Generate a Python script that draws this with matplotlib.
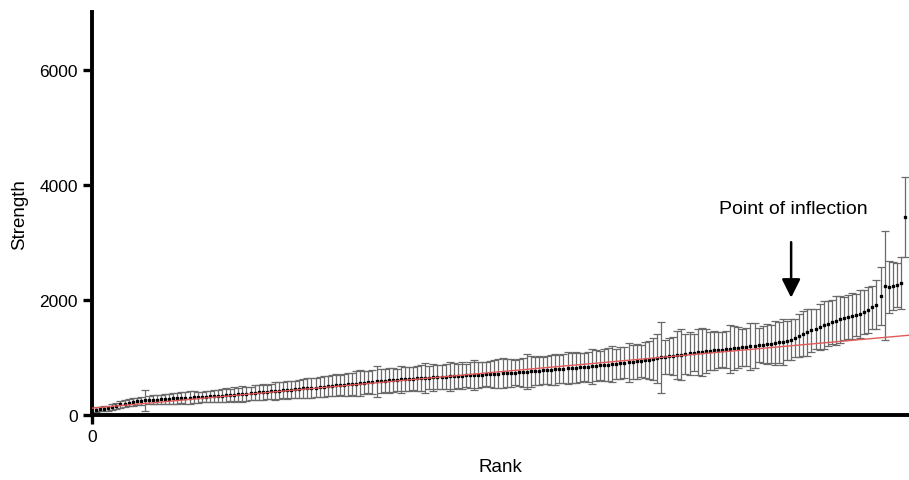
import numpy as np
import matplotlib
matplotlib.use("Agg")
import matplotlib.pyplot as plt

plt.rcParams['font.family'] = ['Liberation Sans', 'DejaVu Sans']

# mean strength for each rank
means = [95, 105, 110, 120, 140, 160, 185, 200, 215, 230,
         240, 250, 255, 260, 265, 270, 275, 280, 285, 290,
         295, 298, 300, 305, 310, 312, 318, 322, 326, 330,
         335, 338, 342, 348, 352, 358, 362, 368, 375, 385,
         392, 398, 405, 410, 416, 422, 428, 435, 442, 450,
         456, 462, 468, 472, 478, 485, 492, 500, 508, 515,
         522, 528, 535, 540, 548, 555, 562, 570, 578, 588,
         595, 600, 605, 610, 615, 620, 625, 630, 635, 640,
         644, 648, 652, 656, 660, 664, 668, 672, 676, 680,
         684, 688, 692, 696, 700, 704, 708, 712, 716, 720,
         725, 730, 734, 738, 742, 746, 752, 758, 764, 770,
         776, 782, 788, 794, 800, 806, 812, 818, 824, 830,
         836, 842, 848, 855, 862, 868, 875, 882, 890, 900,
         908, 916, 925, 934, 944, 952, 962, 972, 985, 1000,
         1010, 1020, 1030, 1040, 1050, 1060, 1070, 1080, 1090, 1100,
         1108, 1115, 1122, 1130, 1138, 1145, 1152, 1160, 1170, 1180,
         1188, 1196, 1205, 1214, 1222, 1230, 1240, 1250, 1262, 1275,
         1290, 1310, 1340, 1380, 1410, 1440, 1470, 1500, 1530, 1560,
         1590, 1620, 1640, 1660, 1680, 1700, 1720, 1740, 1760, 1790,
         1830, 1870, 1920, 2070, 2245, 2230, 2240, 2260, 2300, 3440]

# error bar half widths
errors = [40, 40, 40, 45, 50, 55, 60, 60, 60, 65,
          65, 70, 180, 70, 75, 75, 80, 80, 85, 90,
          95, 95, 100, 110, 100, 95, 90, 95, 100, 105,
          100, 110, 120, 110, 130, 120, 140, 125, 115, 130,
          135, 140, 120, 130, 150, 145, 140, 160, 150, 145,
          155, 160, 170, 180, 165, 175, 180, 170, 185, 190,
          180, 190, 200, 195, 210, 220, 200, 190, 205, 270,
          210, 200, 220, 215, 190, 230, 210, 205, 200, 215,
          220, 260, 200, 230, 210, 205, 220, 250, 230, 215,
          240, 200, 225, 260, 230, 220, 210, 230, 240, 250,
          260, 245, 240, 220, 230, 250, 300, 270, 240, 250,
          235, 250, 260, 265, 240, 250, 280, 260, 270, 255,
          245, 260, 300, 270, 250, 280, 290, 310, 265, 280,
          270, 340, 290, 300, 280, 310, 330, 360, 420, 620,
          300, 310, 330, 420, 440, 350, 380, 320, 400, 420,
          380, 330, 340, 310, 300, 320, 420, 380, 360, 320,
          330, 410, 390, 300, 320, 350, 330, 380, 360, 400,
          340, 360, 330, 380, 390, 410, 380, 350, 400, 420,
          390, 380, 430, 410, 370, 380, 400, 360, 420, 390,
          400, 380, 420, 500, 950, 450, 420, 380, 450, 700]

ranks = np.arange(1, len(means) + 1)

# linear fit line (start value, slope per rank)
fit_intercept = 120
fit_slope = 6.3

fig = plt.figure(figsize=(9.09, 4.81), dpi=100)
ax = fig.add_axes([0.1012, 0.135, 0.8988, 0.838])

ax.errorbar(ranks, means, yerr=errors, fmt='s', color='black', markersize=1.8,
            ecolor='#6a6a6a', elinewidth=0.9, capsize=2.8, capthick=0.9, zorder=2)

fit_x = np.array([0, 201])
ax.plot(fit_x, fit_intercept + fit_slope * fit_x, color='#e05a5a', lw=1.0, zorder=3)

ax.set_xlim(0, 201)
ax.set_ylim(0, 7000)
ax.set_xticks([0])
ax.set_yticks([0, 2000, 4000, 6000])
ax.tick_params(axis='both', length=6.5, width=2.4, labelsize=12.5, direction='out')
for side in ['top', 'right']:
    ax.spines[side].set_visible(False)
for side in ['left', 'bottom']:
    ax.spines[side].set_linewidth(2.8)

ax.set_xlabel('Rank', fontsize=13.5, labelpad=10)
ax.set_ylabel('Strength', fontsize=13.5, labelpad=8)

ax.annotate('', xy=(172, 1990), xytext=(172, 3050),
            arrowprops=dict(arrowstyle='-|>', color='black', lw=1.8, mutation_scale=28))
ax.text(172.5, 3580, 'Point of inflection', fontsize=14, ha='center', va='center')

fig.savefig('out.png', dpi=100)
